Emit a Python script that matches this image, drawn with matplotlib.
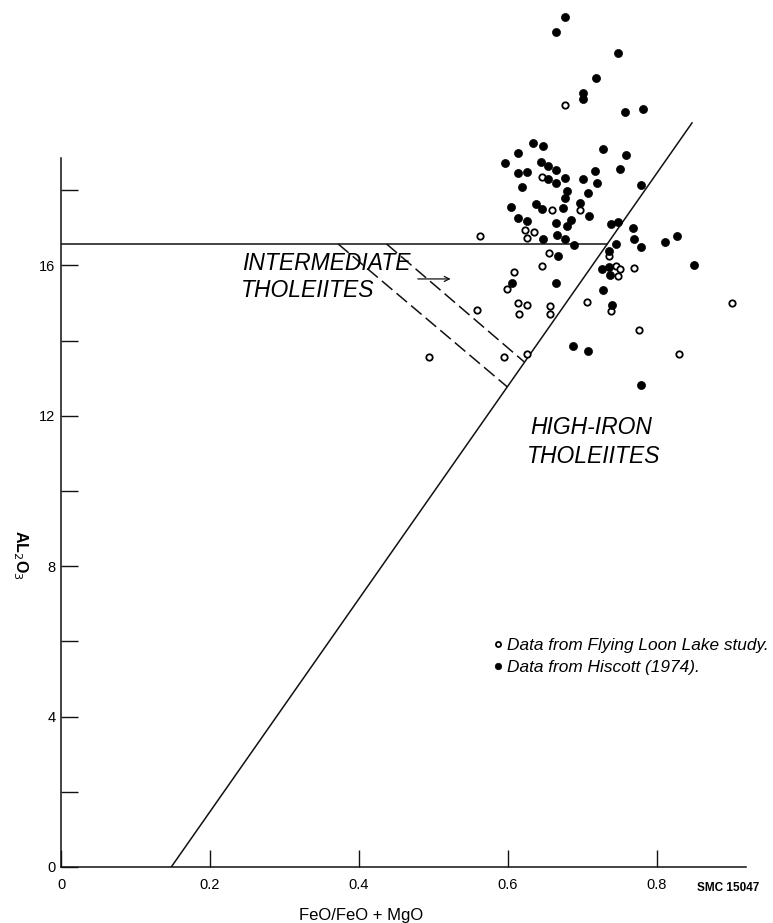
import matplotlib
matplotlib.use("Agg")
import matplotlib.pyplot as plt

plt.rcParams['font.family'] = ['Liberation Sans', 'DejaVu Sans']

# ---- data (FeO/(FeO+MgO), Al2O3) ----
hiscott_x = [0.677, 0.664, 0.747, 0.718, 0.701, 0.700, 0.757, 0.781, 0.634, 0.647,
             0.727, 0.613, 0.759, 0.596, 0.644, 0.654, 0.664, 0.614, 0.626, 0.750,
             0.717, 0.654, 0.677, 0.700, 0.664, 0.719, 0.619, 0.778, 0.679, 0.677,
             0.707, 0.604, 0.637, 0.646, 0.674, 0.697, 0.709, 0.614, 0.625, 0.665,
             0.685, 0.679, 0.738, 0.748, 0.768, 0.647, 0.666, 0.677, 0.689, 0.745,
             0.769, 0.778, 0.811, 0.827, 0.850, 0.667, 0.736, 0.726, 0.736, 0.737,
             0.665, 0.606, 0.727, 0.740, 0.687, 0.707, 0.779]
hiscott_y = [22.61, 22.20, 21.64, 20.98, 20.58, 20.42, 20.07, 20.17, 19.26, 19.18,
             19.10, 18.98, 18.94, 18.72, 18.76, 18.64, 18.54, 18.46, 18.48, 18.56,
             18.50, 18.31, 18.33, 18.29, 18.18, 18.18, 18.08, 18.13, 17.99, 17.79,
             17.92, 17.55, 17.62, 17.50, 17.53, 17.65, 17.31, 17.27, 17.17, 17.13,
             17.22, 17.04, 17.09, 17.16, 16.99, 16.69, 16.80, 16.69, 16.54, 16.56,
             16.69, 16.48, 16.61, 16.78, 16.02, 16.25, 16.39, 15.90, 15.96, 15.74,
             15.52, 15.52, 15.35, 14.95, 13.86, 13.73, 12.83]

loon_x = [0.677, 0.645, 0.659, 0.697, 0.623, 0.635, 0.626, 0.562, 0.655, 0.735,
          0.645, 0.608, 0.598, 0.614, 0.626, 0.615, 0.656, 0.656, 0.558, 0.706,
          0.738, 0.769, 0.776, 0.494, 0.595, 0.626, 0.830, 0.900, 0.745, 0.751,
          0.747]
loon_y = [20.27, 18.36, 17.47, 17.48, 16.94, 16.90, 16.74, 16.79, 16.32, 16.24,
          15.98, 15.82, 15.36, 15.00, 14.94, 14.71, 14.92, 14.71, 14.81, 15.03,
          14.79, 15.93, 14.27, 13.56, 13.56, 13.65, 13.64, 15.01, 15.99, 15.90,
          15.72]

# boundary lines
hline_y = 16.57
diag_x = [0.148, 0.847]
diag_y = [0.0, 19.79]
dash1_x = [0.437, 0.622]
dash1_y = [16.57, 13.43]
dash2_x = [0.372, 0.599]
dash2_y = [16.57, 12.77]

xticks = [0, 0.2, 0.4, 0.6, 0.8]
xticklabels = ['0', '0.2', '0.4', '0.6', '0.8']
yticks = [0, 4, 8, 12, 16]
yminor = [2, 6, 10, 14, 18]

W, H = 773, 923
fig = plt.figure(figsize=(W / 100, H / 100), dpi=100)
x0px, y0px = 61, 867
pxx, pxy = 745.0, 37.6
xmax, ymax = 0.95, 23.3
ax = fig.add_axes([x0px / W, (H - y0px) / H, xmax * pxx / W, ymax * pxy / H])
ax.set_xlim(0, xmax)
ax.set_ylim(0, ymax)
for s in ax.spines.values():
    s.set_visible(False)

lc = '#111111'
lw = 1.1
# axes lines
ax.plot([0, 0.92], [0, 0], color=lc, lw=lw, clip_on=False)
ax.plot([0, 0], [0, 18.86], color=lc, lw=lw, clip_on=False)

# field boundaries
ax.plot([0, 0.733], [hline_y, hline_y], color=lc, lw=lw)
ax.plot(diag_x, diag_y, color=lc, lw=lw)
ax.plot(dash1_x, dash1_y, color=lc, lw=lw, linestyle=(0, (9, 3.5)))
ax.plot(dash2_x, dash2_y, color=lc, lw=lw, linestyle=(0, (9, 3.5)))

# points
h1, = ax.plot(loon_x, loon_y, linestyle='none', marker='o', markersize=4.6,
              markerfacecolor='white', markeredgecolor='black', markeredgewidth=1.3,
              clip_on=False, label='Data from Flying Loon Lake study.')
h2, = ax.plot(hiscott_x, hiscott_y, linestyle='none', marker='o', markersize=5.8,
              markerfacecolor='black', markeredgecolor='black', markeredgewidth=0.5,
              clip_on=False, label='Data from Hiscott (1974).')

# ticks
ax.set_xticks(xticks)
ax.set_xticklabels(xticklabels)
ax.set_yticks(yticks)
ax.set_yticks(yminor, minor=True)
ax.tick_params(axis='both', which='both', direction='in', length=12, width=1.0,
               color=lc, labelsize=10.5)
ax.tick_params(axis='y', pad=4)
ax.tick_params(axis='x', pad=8)

# labels
ax.text(0.403, -1.28, 'FeO/FeO + MgO', ha='center', va='center', fontsize=12,
        clip_on=False)
ax.text(-0.055, 8.3, r'AL$_2$O$_3$', rotation=-90, ha='center', va='center',
        fontsize=11.5, fontweight='bold', clip_on=False)
ax.text(0.854, -0.55, 'SMC 15047', ha='left', va='center', fontsize=8.5,
        fontweight='bold', clip_on=False)

ax.text(0.243, 16.04, 'INTERMEDIATE', ha='left', va='center', fontsize=16.5,
        style='italic')
ax.text(0.242, 15.33, 'THOLEIITES', ha='left', va='center', fontsize=16.5,
        style='italic')
ax.text(0.630, 11.70, 'HIGH-IRON', ha='left', va='center', fontsize=16.5,
        style='italic')
ax.text(0.626, 10.93, 'THOLEIITES', ha='left', va='center', fontsize=16.5,
        style='italic')
ax.annotate('', xy=(0.523, 15.64), xytext=(0.479, 15.64),
            arrowprops=dict(arrowstyle='->', lw=0.9, color=lc,
                            mutation_scale=9, shrinkA=0, shrinkB=0))

leg = ax.legend(handles=[h1, h2], loc='upper left',
                bbox_to_anchor=(495 / W, 1 - 638 / H),
                bbox_transform=fig.transFigure, frameon=False,
                prop=dict(family='Liberation Sans', style='italic', size=12.4),
                handlelength=0.4, handletextpad=0.3, labelspacing=0.38,
                borderpad=0, borderaxespad=0, markerscale=0.8)

fig.savefig('out.png', dpi=100)
